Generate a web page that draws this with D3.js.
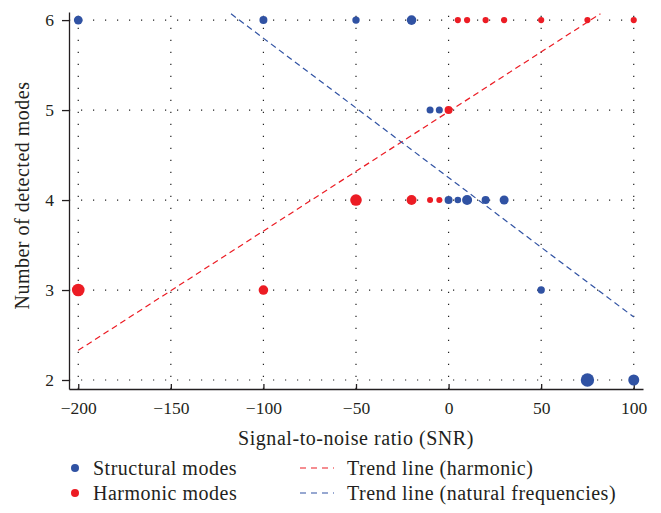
<!DOCTYPE html>
<html>
<head>
<meta charset="utf-8">
<script src="https://cdn.jsdelivr.net/npm/d3@7/dist/d3.min.js"></script>
<style>
  html, body { margin: 0; padding: 0; background: #fff; }
  svg { display: block; }
  text { font-family: "Liberation Serif", "DejaVu Serif", serif; fill: #231f20; }
</style>
</head>
<body>
<svg id="chart" width="661" height="513"></svg>
<script>
// SNR levels at which modes were counted
const snrLevels = [-200, -100, -50, -20, -10, -5, 0, 5, 10, 20, 30, 50, 75, 100];

// Number of structural modes detected at each SNR, with marker radius
const structuralModes = [6, 6, 6, 6, 5, 5, 4, 4, 4, 4, 4, 3, 2, 2];
const structuralRadius = [4.4, 4, 3.7, 4.8, 3.5, 3.5, 4, 3.3, 5, 4, 4.5, 3.7, 6.7, 5.5];

// Number of harmonic modes detected at each SNR, with marker radius
const harmonicModes = [3, 3, 4, 4, 4, 4, 5, 6, 6, 6, 6, 6, 6, 6];
const harmonicRadius = [6.3, 4.8, 5.8, 5, 3, 3, 4, 3.1, 3.1, 3.1, 3.1, 3.1, 3.1, 3.1];

// Fitted trend lines (endpoints in data units)
const harmonicTrend = [[-200, 2.33], [82, 6.07]];
const naturalTrend = [[-117.5, 6.07], [100, 2.70]];

// Axis ticks
const xTicks = [-200, -150, -100, -50, 0, 50, 100];
const yTicks = [2, 3, 4, 5, 6];

const blue = "#3052a3";
const red = "#ec1c24";

const svg = d3.select("#chart");
const margin = { left: 69, right: 18, top: 12, bottom: 124 };
const W = 661, H = 513;

const x = d3.scaleLinear().domain([-205, 105]).range([margin.left, W - margin.right]);
const y = d3.scaleLinear().domain([1.9, 6.09]).range([H - margin.bottom, margin.top]);

// Dotted grid
const grid = svg.append("g").attr("stroke", "#222").attr("stroke-width", 1.2)
  .attr("stroke-dasharray", "1.2,10.8");
grid.selectAll("line.v").data(xTicks).join("line").attr("class", "v")
  .attr("x1", d => x(d)).attr("x2", d => x(d))
  .attr("y1", y.range()[0]).attr("y2", y.range()[1]);
grid.selectAll("line.h").data(yTicks).join("line").attr("class", "h")
  .attr("y1", d => y(d)).attr("y2", d => y(d))
  .attr("x1", x.range()[0]).attr("x2", x.range()[1]);

// Axes
const fmt = d => d < 0 ? "\u2212" + Math.abs(d) : String(d);
const xAxis = svg.append("g").attr("transform", `translate(0,${y.range()[0]})`)
  .call(d3.axisBottom(x).tickValues(xTicks).tickFormat(fmt).tickSizeInner(-5).tickSizeOuter(0).tickPadding(13));
const yAxis = svg.append("g").attr("transform", `translate(${x.range()[0]},0)`)
  .call(d3.axisLeft(y).tickValues(yTicks).tickFormat(fmt).tickSizeInner(7).tickSizeOuter(0).tickPadding(8));
[xAxis, yAxis].forEach(a => {
  a.select(".domain").attr("stroke", "#231f20").attr("stroke-width", 1.3);
  a.selectAll(".tick line").attr("stroke", "#231f20").attr("stroke-width", 1.3);
  a.selectAll(".tick text").attr("font-size", 17.5).attr("font-family", "Liberation Serif").attr("fill", "#231f20");
});

// Trend lines
const line = d3.line().x(d => x(d[0])).y(d => y(d[1]));
svg.append("path").datum(harmonicTrend).attr("d", line)
  .attr("fill", "none").attr("stroke", red).attr("stroke-width", 1.2).attr("stroke-dasharray", "6,4");
svg.append("path").datum(naturalTrend).attr("d", line)
  .attr("fill", "none").attr("stroke", blue).attr("stroke-width", 1.2).attr("stroke-dasharray", "6,4");

// Points
svg.append("g").selectAll("circle").data(snrLevels).join("circle")
  .attr("cx", d => x(d)).attr("cy", (d, i) => y(structuralModes[i]))
  .attr("r", (d, i) => structuralRadius[i]).attr("fill", blue);
svg.append("g").selectAll("circle").data(snrLevels).join("circle")
  .attr("cx", d => x(d)).attr("cy", (d, i) => y(harmonicModes[i]))
  .attr("r", (d, i) => harmonicRadius[i]).attr("fill", red);

// Axis titles
svg.append("text").attr("x", (x.range()[0] + x.range()[1]) / 2).attr("y", 445)
  .attr("text-anchor", "middle").attr("font-size", 20).attr("letter-spacing", 0.55)
  .text("Signal-to-noise ratio (SNR)");
svg.append("text").attr("transform", `translate(29,${(y.range()[0] + y.range()[1]) / 2 - 5}) rotate(-90)`)
  .attr("text-anchor", "middle").attr("font-size", 20).attr("letter-spacing", 0.5)
  .text("Number of detected modes");

// Legend
const legend = svg.append("g").attr("font-size", 20).attr("letter-spacing", 0.5);
const items = [
  { type: "dot", color: blue, label: "Structural modes", lx: 75, ly: 468 },
  { type: "dot", color: red, label: "Harmonic modes", lx: 75, ly: 493 },
  { type: "dash", color: red, label: "Trend line (harmonic)", lx: 300, ly: 468 },
  { type: "dash", color: blue, label: "Trend line (natural frequencies)", lx: 300, ly: 493 }
];
items.forEach(it => {
  if (it.type === "dot") {
    legend.append("circle").attr("cx", it.lx).attr("cy", it.ly).attr("r", 4).attr("fill", it.color);
    legend.append("text").attr("x", it.lx + 18).attr("y", it.ly + 6.5).text(it.label);
  } else {
    legend.append("line").attr("x1", it.lx).attr("x2", it.lx + 34).attr("y1", it.ly).attr("y2", it.ly)
      .attr("stroke", it.color).attr("stroke-width", 1.2).attr("stroke-dasharray", "6,5");
    legend.append("text").attr("x", it.lx + 47).attr("y", it.ly + 6.5).text(it.label);
  }
});
</script>
</body>
</html>
